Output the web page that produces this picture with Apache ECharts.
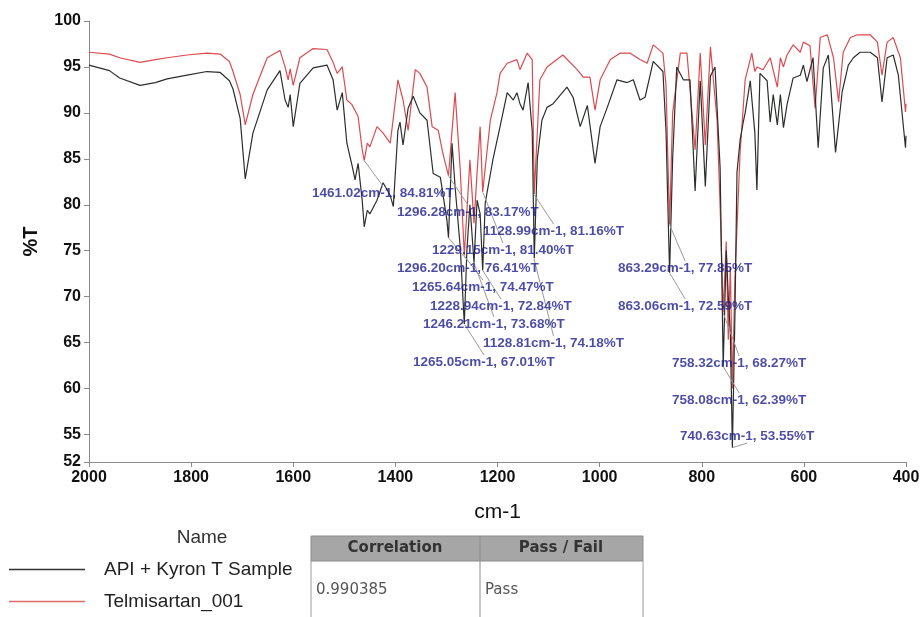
<!DOCTYPE html>
<html>
<head>
<meta charset="utf-8">
<script src="https://cdn.jsdelivr.net/npm/echarts@6/dist/echarts.min.js"></script>
<style>
  html, body { margin: 0; padding: 0; background: #fff; }
  #main { width: 924px; height: 617px; }
</style>
</head>
<body>
<div id="main"></div>
<script>
// spectra: [wavenumber cm-1, %T]
var sampleSpectrum = [
  [2000,95.2],[1960,94.6],[1940,93.8],[1900,93.0],[1870,93.3],[1847,93.7],[1808,94.1],[1769,94.5],
  [1743,94.4],[1725,93.5],[1718,92.6],[1704,89.4],[1694,82.8],[1679,87.8],[1651,92.5],[1626,94.6],
  [1616,91.4],[1610,90.6],[1606,92.0],[1600,88.5],[1587,93.2],[1561,94.9],[1534,95.2],[1522,93.6],
  [1514,90.3],[1504,92.2],[1495,86.7],[1485,84.3],[1479,82.7],[1473,84.5],[1465,80.5],[1461,77.6],
  [1455,79.4],[1450,79.0],[1436,80.5],[1424,82.4],[1410,81.0],[1404,79.8],[1395,88.1],[1391,89.0],
  [1385,86.5],[1375,90.5],[1365,91.8],[1352,90.0],[1338,89.2],[1326,83.4],[1312,83.0],[1299,78.3],
  [1296,76.41],[1289,86.7],[1283,81.9],[1273,75.4],[1265,67.01],[1260,75.0],[1254,80.0],[1246,73.68],
  [1240,80.5],[1234,79.0],[1229,72.84],[1224,80.2],[1209,84.9],[1195,88.5],[1181,92.2],[1169,91.4],
  [1162,92.2],[1156,91.0],[1150,90.3],[1140,93.3],[1132,88.0],[1128,74.18],[1122,85.0],[1113,89.2],
  [1103,90.6],[1091,91.0],[1064,92.8],[1052,91.7],[1038,88.5],[1024,90.8],[1009,84.5],[999,88.5],
  [985,90.6],[966,93.6],[946,93.3],[934,93.6],[921,91.4],[911,91.7],[895,95.6],[876,94.5],
  [870,88.0],[863,72.59],[857,85.0],[849,95.0],[836,93.6],[823,93.6],[813,81.5],[803,93.5],
  [793,82.0],[783,94.0],[774,95.0],[764,84.0],[758,62.39],[752,75.0],[748,70.0],[744,66.0],
  [740,53.55],[735,68.0],[731,83.5],[725,87.0],[719,88.9],[715,90.0],[705,93.5],[696,87.8],
  [692,81.6],[686,94.3],[672,93.5],[666,89.0],[660,92.0],[652,88.7],[646,92.0],[640,88.4],
  [633,90.9],[621,93.8],[607,94.1],[601,95.2],[594,93.4],[582,96.0],[572,86.2],[562,94.9],
  [552,96.3],[538,85.7],[525,92.3],[513,95.2],[503,96.0],[490,96.6],[470,96.6],[456,96.0],
  [447,91.2],[437,96.0],[425,96.3],[415,94.1],[401,86.2],[400,87.5]
];
var referenceSpectrum = [
  [2000,96.6],[1960,96.4],[1940,96.0],[1900,95.5],[1870,95.8],[1847,96.0],[1808,96.3],[1769,96.5],
  [1743,96.4],[1725,95.6],[1718,94.5],[1704,92.0],[1694,88.7],[1679,92.0],[1651,96.0],[1626,96.8],
  [1616,95.0],[1610,93.6],[1606,94.8],[1600,93.0],[1587,96.0],[1561,97.0],[1534,96.9],[1522,95.5],
  [1514,94.3],[1504,95.0],[1495,91.4],[1485,90.9],[1473,89.6],[1465,86.0],[1461,84.81],[1455,86.7],
  [1450,86.3],[1436,88.5],[1424,87.8],[1410,86.7],[1395,93.6],[1385,91.4],[1375,88.1],[1361,94.7],
  [1352,94.3],[1338,92.8],[1328,88.5],[1316,88.1],[1307,85.6],[1296,83.17],[1283,92.2],[1273,83.8],
  [1265,74.47],[1254,84.9],[1246,78.0],[1240,83.5],[1234,88.5],[1229,81.40],[1214,89.2],[1201,92.2],
  [1195,94.3],[1181,95.4],[1162,95.8],[1156,94.7],[1142,96.5],[1132,95.8],[1128,81.16],[1117,93.6],
  [1103,95.0],[1072,96.3],[1044,94.7],[1032,93.9],[1019,93.9],[1009,90.3],[999,93.6],[979,95.8],
  [960,96.5],[940,96.5],[921,95.8],[907,95.4],[895,97.4],[876,96.5],[870,93.0],[863,77.85],
  [857,90.0],[842,96.5],[829,96.5],[813,86.0],[803,96.5],[793,86.5],[783,97.2],[770,89.2],
  [764,79.8],[758,68.27],[752,76.0],[748,65.3],[744,73.2],[740,60.0],[735,72.0],[725,85.6],
  [715,93.6],[702,96.5],[696,94.5],[692,95.0],[680,94.7],[666,96.0],[652,92.8],[646,96.0],
  [640,95.0],[633,96.3],[621,97.4],[607,96.6],[601,97.7],[588,97.3],[578,90.5],[568,98.2],
  [554,98.5],[542,96.0],[532,91.2],[523,96.6],[509,98.2],[495,98.5],[470,98.5],[456,97.7],
  [447,94.1],[437,97.7],[425,98.2],[411,96.0],[401,90.1],[400,91.0]
];

var seriesNames = ['API + Kyron T Sample', 'Telmisartan_001'];

// picked peaks
var peakWave = [1461.02, 1296.28, 1128.99, 1229.15, 1296.20, 1265.64, 1228.94, 1246.21,
                1128.81, 1265.05, 863.29, 863.06, 758.32, 758.08, 740.63];
var peakT = [84.81, 83.17, 81.16, 81.40, 76.41, 74.47, 72.84, 73.68,
             74.18, 67.01, 77.85, 72.59, 68.27, 62.39, 53.55];

var yTicks = [52, 55, 60, 65, 70, 75, 80, 85, 90, 95, 100];

var tableHeader = ['Correlation', 'Pass / Fail'];
var tableRow = ['0.990385', 'Pass'];

// where each peak label sits (left edge, middle), px
var peakLabelPos = [[312,193],[397,212],[483,231],[432,250],[397,268],[412,287],[430,306],[423,324],
                    [483,343],[413,362],[618,268],[618,306],[672,363],[672,400],[680,436]];

var FONT = '"Liberation Sans", Arial, sans-serif';
var TABLE_FONT = '"DejaVu Sans", Verdana, sans-serif';

var myChart = echarts.init(document.getElementById('main'));

var peakData = peakWave.map(function (w, i) { return [w, peakT[i]]; });

var option = {
  animation: false,
  backgroundColor: '#fff',
  textStyle: { fontFamily: FONT },
  grid: { left: 89, right: 18, top: 21, bottom: 155 },
  legend: {
    orient: 'vertical',
    left: 9,
    top: 560,
    padding: 0,
    data: seriesNames,
    icon: 'rect',
    itemWidth: 76,
    itemHeight: 1.5,
    itemGap: 13,
    textStyle: { fontSize: 19, color: '#222', fontFamily: FONT, padding: [0, 0, 0, 14] }
  },
  xAxis: {
    type: 'value',
    inverse: true,
    min: 400,
    max: 2000,
    interval: 200,
    name: 'cm-1',
    nameLocation: 'middle',
    nameGap: 40,
    nameTextStyle: { fontSize: 21, color: '#111' },
    axisLine: { lineStyle: { color: '#8a8a8a' } },
    axisTick: { show: true, length: 5, lineStyle: { color: '#8a8a8a' } },
    axisLabel: {
      fontSize: 16, color: '#111', fontWeight: 'bold', margin: 8,
      formatter: function (v) { return String(v); }
    },
    splitLine: { show: false }
  },
  yAxis: {
    type: 'value',
    min: 52,
    max: 100,
    name: '%T',
    nameLocation: 'middle',
    nameRotate: 90,
    nameGap: 48,
    nameTextStyle: { fontSize: 20, color: '#111', fontWeight: 'bold' },
    axisLine: { show: true, lineStyle: { color: '#8a8a8a' } },
    axisTick: { show: true, length: 5, customValues: yTicks, lineStyle: { color: '#8a8a8a' } },
    axisLabel: { fontSize: 16, color: '#111', fontWeight: 'bold', margin: 8, customValues: yTicks },
    splitLine: { show: false }
  },
  series: [
    {
      name: seriesNames[1],
      type: 'line',
      data: referenceSpectrum,
      showSymbol: false,
      symbol: 'none',
      lineStyle: { color: '#dc4a4f', width: 1.2 },
      itemStyle: { color: '#e06a6e' },
      z: 2
    },
    {
      name: seriesNames[0],
      type: 'line',
      data: sampleSpectrum,
      showSymbol: false,
      symbol: 'none',
      lineStyle: { color: '#2b2f2b', width: 1.2 },
      itemStyle: { color: '#333' },
      z: 3
    },
    {
      name: 'peaks',
      type: 'scatter',
      data: peakData,
      symbolSize: 1,
      itemStyle: { color: 'rgba(0,0,0,0)' },
      z: 5,
      label: {
        show: true,
        fontSize: 13.5,
        fontWeight: 'bold',
        color: '#1f1f8f',
        fontFamily: FONT,
        formatter: function (p) {
          return p.value[0].toFixed(2) + 'cm-1, ' + p.value[1].toFixed(2) + '%T';
        }
      },
      labelLine: { show: true, lineStyle: { color: '#9a9a9a', width: 1 } },
      labelLayout: function (params) {
        var pos = peakLabelPos[params.dataIndex];
        return { x: pos[0], y: pos[1], align: 'left', verticalAlign: 'middle' };
      }
    }
  ],
  graphic: [
    { type: 'text', x: 202, y: 538, style: { text: 'Name', font: '19px ' + FONT, fill: '#333', align: 'center', verticalAlign: 'middle' } },
    { type: 'rect', shape: { x: 311, y: 536, width: 332, height: 25 }, style: { fill: '#a6a6a6', stroke: '#8c8c8c', lineWidth: 1 } },
    { type: 'line', shape: { x1: 480, y1: 536, x2: 480, y2: 617 }, style: { stroke: '#8c8c8c', lineWidth: 1 } },
    { type: 'line', shape: { x1: 311, y1: 561, x2: 311, y2: 617 }, style: { stroke: '#9a9a9a', lineWidth: 1 } },
    { type: 'line', shape: { x1: 643, y1: 561, x2: 643, y2: 617 }, style: { stroke: '#9a9a9a', lineWidth: 1 } },
    { type: 'text', x: 395, y: 548, style: { text: tableHeader[0], font: 'bold 15px ' + TABLE_FONT, fill: '#333', align: 'center', verticalAlign: 'middle' } },
    { type: 'text', x: 561, y: 548, style: { text: tableHeader[1], font: 'bold 15px ' + TABLE_FONT, fill: '#333', align: 'center', verticalAlign: 'middle' } },
    { type: 'text', x: 316, y: 590, style: { text: tableRow[0], font: '15px ' + TABLE_FONT, fill: '#555', align: 'left', verticalAlign: 'middle' } },
    { type: 'text', x: 485, y: 590, style: { text: tableRow[1], font: '15px ' + TABLE_FONT, fill: '#555', align: 'left', verticalAlign: 'middle' } }
  ]
};
myChart.setOption(option);
</script>
</body>
</html>
